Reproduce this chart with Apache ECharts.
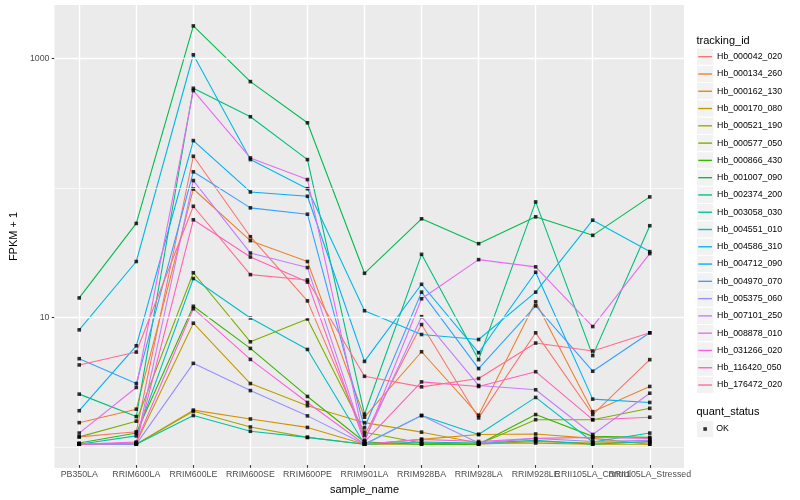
<!DOCTYPE html>
<html><head><meta charset="utf-8">
<script src="https://cdn.jsdelivr.net/npm/echarts@6/dist/echarts.min.js"></script>
<style>html,body{margin:0;padding:0;background:#fff}#c{width:800px;height:500px}</style>
</head><body><div id="c"></div>
<script>
// ---- data (FPKM + 1) ----
const categories = ['PB350LA','RRIM600LA','RRIM600LE','RRIM600SE','RRIM600PE','RRIM901LA','RRIM928BA','RRIM928LA','RRIM928LE','RRII105LA_Control','RRII105LA_Stressed'];
const trackingIds = ['Hb_000042_020','Hb_000134_260','Hb_000162_130','Hb_000170_080','Hb_000521_190','Hb_000577_050','Hb_000866_430','Hb_001007_090','Hb_002374_200','Hb_003058_030','Hb_004551_010','Hb_004586_310','Hb_004712_090','Hb_004970_070','Hb_005375_060','Hb_007101_250','Hb_008878_010','Hb_031266_020','Hb_116420_050','Hb_176472_020'];
const colors = ['#F8766D','#EA8331','#D89000','#C09B00','#A3A500','#7CAE00','#39B600','#00BB4E','#00BF7D','#00C1A3','#00BFC4','#00BAE0','#00B0F6','#35A2FF','#9590FF','#C77CFF','#E76BF3','#FA62DB','#FF62BC','#FF6C91'];

const Hb_000042_020 = [1.14, 1.25, 173, 41.0, 13.0, 1.17, 8.51, 1.60, 7.34, 1.70, 4.54];
const Hb_000134_260 = [1.47, 1.87, 96.3, 38.2, 26.3, 1.62, 5.23, 1.68, 12.8, 1.79, 2.81];
const Hb_000162_130 = [1.00, 1.00, 1.84, 1.57, 1.35, 1.00, 1.09, 1.19, 1.20, 1.11, 1.00];
const Hb_000170_080 = [1.00, 1.02, 8.72, 2.96, 1.99, 1.47, 1.24, 1.02, 1.02, 1.00, 1.00];
const Hb_000521_190 = [1.00, 1.00, 1.80, 1.36, 1.13, 1.00, 1.00, 1.00, 1.05, 1.02, 1.04];
const Hb_000577_050 = [1.14, 1.51, 21.5, 6.25, 9.41, 1.24, 1.02, 1.00, 1.55, 1.55, 1.90];
const Hb_000866_430 = [1.02, 1.22, 11.8, 5.55, 2.35, 1.04, 1.00, 1.00, 1.70, 1.15, 1.13];
const Hb_001007_090 = [13.7, 52.0, 1783, 658, 315, 21.3, 56.5, 36.2, 58.5, 42.0, 83.6];
const Hb_002374_200 = [2.45, 1.64, 584, 351, 163, 1.71, 29.9, 4.54, 76.4, 4.88, 49.9];
const Hb_003058_030 = [1.00, 1.00, 1.67, 1.26, 1.13, 1.00, 1.04, 1.02, 1.07, 1.00, 1.05];
const Hb_004551_010 = [1.00, 1.16, 19.4, 9.58, 5.45, 1.00, 1.67, 1.19, 2.31, 1.04, 1.22];
const Hb_004586_310 = [7.74, 26.3, 1064, 163, 96.8, 10.9, 7.12, 6.51, 15.2, 55.1, 31.4];
const Hb_004712_090 = [1.82, 5.82, 229, 91.3, 84.5, 4.40, 17.5, 5.14, 21.7, 2.24, 2.11];
const Hb_004970_070 = [4.62, 2.96, 131, 68.7, 61.3, 1.34, 15.2, 3.87, 11.9, 3.69, 7.34];
const Hb_005375_060 = [1.00, 1.00, 4.25, 2.61, 1.66, 1.00, 1.67, 1.02, 1.11, 1.05, 1.07];
const Hb_007101_250 = [1.00, 1.02, 112, 30.6, 23.6, 1.07, 9.80, 2.86, 2.65, 1.19, 2.49];
const Hb_008878_010 = [1.22, 2.76, 561, 168, 114, 1.05, 13.5, 27.2, 23.9, 8.21, 30.3];
const Hb_031266_020 = [1.00, 1.04, 11.3, 4.56, 2.11, 1.00, 1.09, 1.05, 1.11, 1.13, 1.11];
const Hb_116420_050 = [1.00, 1.02, 55.5, 28.5, 18.2, 1.04, 3.05, 2.81, 3.66, 1.55, 1.62];
const Hb_176472_020 = [4.13, 5.20, 70.7, 20.8, 18.9, 3.37, 2.79, 3.24, 6.11, 5.30, 7.34];

const seriesValues = [Hb_000042_020, Hb_000134_260, Hb_000162_130, Hb_000170_080, Hb_000521_190, Hb_000577_050, Hb_000866_430, Hb_001007_090, Hb_002374_200, Hb_003058_030, Hb_004551_010, Hb_004586_310, Hb_004712_090, Hb_004970_070, Hb_005375_060, Hb_007101_250, Hb_008878_010, Hb_031266_020, Hb_116420_050, Hb_176472_020];
const yTickValues = [10, 1000];
const yMinorValues = [1, 100];
const statusLabel = 'OK';

// ---- layout / style ----
const FONT = '"Liberation Sans", Arial, Helvetica, sans-serif';
const all = seriesValues.flat();
const lo = Math.log10(Math.min(...all)), hi = Math.log10(Math.max(...all));
const pad = (hi - lo) * 0.05;
const yMin = Math.pow(10, lo - pad), yMax = Math.pow(10, hi + pad);

const panel = {left: 45, top: 5, width: 639, height: 463};
const step = panel.width / (categories.length - 1 + 1.2);
const keySize = 17.28, keyLeft = 696.5, keyTop0 = 48.06, okTop = 420.36;

const chart = echarts.init(document.getElementById('c'), null, {renderer: 'canvas'});

const graphics = [];
trackingIds.forEach((_, i) => graphics.push({type: 'rect', shape: {x: keyLeft, y: keyTop0 + i * keySize, width: keySize, height: keySize}, style: {fill: '#F2F2F2', stroke: '#FFFFFF', lineWidth: 1}, silent: true, z: 0}));
graphics.push({type: 'rect', shape: {x: keyLeft, y: okTop, width: keySize, height: keySize}, style: {fill: '#F2F2F2', stroke: '#FFFFFF', lineWidth: 1}, silent: true, z: 0});
graphics.push({type: 'text', x: keyLeft, y: 40.7, style: {text: 'tracking_id', fontSize: 11, fontFamily: FONT, fill: '#000', verticalAlign: 'middle', align: 'left'}, silent: true});
graphics.push({type: 'text', x: keyLeft, y: 412.3, style: {text: 'quant_status', fontSize: 11, fontFamily: FONT, fill: '#000', verticalAlign: 'middle', align: 'left'}, silent: true});

const lineSeries = seriesValues.map((vals, k) => ({
  name: trackingIds[k], type: 'line', xAxisIndex: 1, yAxisIndex: 1, data: vals,
  symbol: 'none', lineStyle: {color: colors[k], width: 1.1}, itemStyle: {color: colors[k]},
  z: 2, animation: false, emphasis: {disabled: true}
}));

const option = {
  animation: false,
  textStyle: {fontFamily: FONT},
  grid: [
    {left: panel.left, top: panel.top, width: panel.width, height: panel.height, show: true, backgroundColor: '#EBEBEB', borderWidth: 0},
    {left: panel.left + 0.6 * step, top: panel.top, width: panel.width - 1.2 * step, height: panel.height, show: false}
  ],
  xAxis: [
    {gridIndex: 0, type: 'value', min: 0, max: 1, show: false},
    {gridIndex: 1, type: 'category', data: categories, boundaryGap: false,
     axisLine: {show: false},
     axisTick: {show: true, length: 2.75, lineStyle: {color: '#333333', width: 1.07}},
     axisLabel: {interval: 0, margin: 5, color: '#4D4D4D', fontSize: 8.8, fontFamily: FONT, hideOverlap: false},
     splitLine: {show: true, interval: 0, lineStyle: {color: '#FFFFFF', width: 1.4}},
     name: 'sample_name', nameLocation: 'middle', nameGap: 13,
     nameTextStyle: {color: '#000', fontSize: 11, fontFamily: FONT}}
  ],
  yAxis: [
    {gridIndex: 0, type: 'log', logBase: 10, min: yMin, max: yMax,
     axisLine: {show: false},
     axisTick: {show: true, customValues: yTickValues, length: 2.75, lineStyle: {color: '#333333', width: 1.07}},
     axisLabel: {customValues: yTickValues, margin: 5, color: '#4D4D4D', fontSize: 8.8, fontFamily: FONT, formatter: v => String(Math.round(v))},
     splitLine: {show: false},
     name: 'FPKM + 1', nameLocation: 'middle', nameGap: 27,
     nameTextStyle: {color: '#000', fontSize: 11, fontFamily: FONT}},
    {gridIndex: 1, type: 'log', logBase: 10, min: yMin, max: yMax, show: false}
  ],
  legend: [
    {data: trackingIds, orient: 'vertical', left: keyLeft + 1.73, top: keyTop0, padding: 0, itemGap: 0,
     itemWidth: 13.8, itemHeight: keySize, icon: 'path://M0,0h10v1h-10z', itemStyle: {borderWidth: 0},
     selectedMode: false, textStyle: {fontSize: 8.8, color: '#000', fontFamily: FONT, lineHeight: keySize}},
    {data: [statusLabel], orient: 'vertical', left: keyLeft + keySize / 2 - 1.8, top: okTop, padding: 0, itemGap: 0,
     itemWidth: 3.6, itemHeight: 3.6, icon: 'rect', itemStyle: {borderWidth: 0},
     selectedMode: false, textStyle: {fontSize: 8.8, color: '#000', fontFamily: FONT, lineHeight: keySize, padding: [0, 0, 0, 4.3]}}
  ],
  graphic: graphics,
  series: [
    {type: 'line', xAxisIndex: 0, yAxisIndex: 0, data: [[0.5, 10]], symbol: 'none', lineStyle: {opacity: 0}, silent: true, z: 1,
     markLine: {silent: true, symbol: ['none', 'none'], label: {show: false}, animation: false,
       lineStyle: {color: '#FFFFFF', type: 'solid'},
       data: [...yMinorValues.map(v => ({yAxis: v, lineStyle: {width: 0.7, color: '#FFFFFF', type: 'solid'}})),
              ...yTickValues.map(v => ({yAxis: v, lineStyle: {width: 1.4, color: '#FFFFFF', type: 'solid'}}))]}},
    ...lineSeries,
    {name: statusLabel, type: 'scatter', xAxisIndex: 1, yAxisIndex: 1,
     data: seriesValues.flatMap(vals => vals.map((v, i) => [i, v])),
     symbol: 'rect', symbolSize: 3.6, itemStyle: {color: '#000000'}, z: 3, animation: false, emphasis: {disabled: true}}
  ]
};
chart.setOption(option);
</script></body></html>
